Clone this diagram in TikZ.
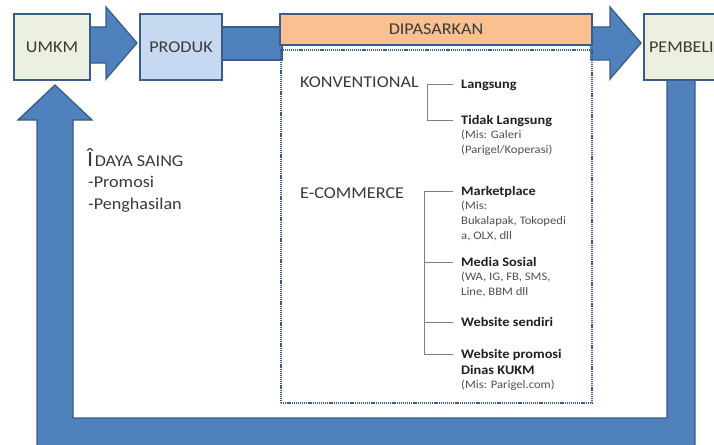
\documentclass[tikz,border=0pt]{standalone}
\usepackage{fontspec}
\setmainfont{Carlito}[FakeStretch=1.1]
\definecolor{arrowblue}{HTML}{4F81BD}
\definecolor{edgeblue}{HTML}{385D8A}
\definecolor{boxgreen}{HTML}{EBF1DE}
\definecolor{boxblue}{HTML}{C6D9F1}
\definecolor{boxorange}{HTML}{FAC090}
\definecolor{txtgray}{HTML}{3A3A3A}
\definecolor{titlegray}{HTML}{202020}
\definecolor{detailgray}{HTML}{505050}
\definecolor{linegray}{HTML}{7F7F7F}
\begin{document}
\begin{tikzpicture}[x=1pt,y=-1pt,
  every node/.style={font=\fontsize{16.5}{19}\selectfont, text=txtgray},
  box/.style={draw=edgeblue, line width=2.2pt, minimum height=66pt, inner sep=0pt},
  blockarrow/.style={fill=arrowblue, draw=edgeblue, line width=1.3pt, line join=miter},
  lbl/.style={inner sep=0pt, anchor=base west},
  ttl/.style={lbl, font=\fontsize{13}{16.5}\selectfont\bfseries, text=titlegray},
  dtl/.style={lbl, font=\fontsize{11.5}{15}\selectfont, text=detailgray},
  brk/.style={draw=linegray, line width=0.9pt}]
\useasboundingbox (0,0) rectangle (714,444);
\clip (0,0) rectangle (714,444);
\fill[white] (0,0) rectangle (714,444);

% feedback arrow
\draw[blockarrow] (667,80) -- (667,418) -- (73,418) -- (73,120) -- (92,120) -- (55,85)
  -- (18,120) -- (37,120) -- (37,452) -- (695,452) -- (695,80) -- cycle;

% top arrows
\draw[blockarrow] (88,27) -- (106,27) -- (106,7) -- (137,43) -- (106,79) -- (106,63) -- (88,63);
\draw[blockarrow] (220,27) rectangle (282,60);
\draw[blockarrow] (590,27) -- (610,27) -- (610,7) -- (641,43) -- (610,79) -- (610,60) -- (590,60);

% boxes
\node[box, fill=boxgreen, minimum width=76pt] (umkm) at (52,47) {UMKM};
\node[box, fill=boxblue, minimum width=82pt] (produk) at (181,47) {PRODUK};
\node[box, fill=boxorange, minimum width=312pt, minimum height=31pt] (dipasarkan) at (436,29.5) {DIPASARKAN};
\node[box, fill=boxgreen, anchor=west, text width=90pt, inner xsep=5pt, align=left] (pembeli) at (643,47) {PEMBELI};
\node[draw=edgeblue, line width=1.5pt, dash pattern=on 1.2pt off 0.9pt, minimum width=311pt, minimum height=353pt, inner sep=0pt] (market) at (436.5,226.5) {};

% left text
\node[lbl] (daya) at (87,166) {{\fontsize{22}{22}\selectfont Î}\hspace{1.5pt}DAYA SAING};
\node[lbl] (promosi) at (88,187) {-Promosi};
\node[lbl] (hasil) at (88,209) {-Penghasilan};

% categories
\node[lbl] (konv) at (300,87) {KONVENTIONAL};
\node[lbl] (ecom) at (300,198) {E-COMMERCE};

% konventional items
\node[ttl] (lang) at (461,88) {Langsung};
\node[ttl] (tidak) at (461,124) {Tidak Langsung};
\node[dtl] (tidakd) at (461,138) {\vtop{\hbox{(Mis: Galeri}\hbox{(Parigel/Koperasi)}}};

% e-commerce items
\node[ttl] (mkt) at (461,195) {Marketplace};
\node[dtl] (mktd) at (461,209.5) {\vtop{\hbox{(Mis:}\hbox{Bukalapak, Tokopedi}\hbox{a, OLX, dll}}};
\node[ttl] (medsos) at (461,266) {Media Sosial};
\node[dtl] (medsosd) at (461,280.5) {\vtop{\hbox{(WA, IG, FB, SMS,}\hbox{Line, BBM dll}}};
\node[ttl] (websendiri) at (461,326) {Website sendiri};
\node[ttl] (webpromo) at (461,358) {\vtop{\hbox{Website promosi}\hbox{Dinas KUKM}}};
\node[dtl] (webpromod) at (461,388) {(Mis: Parigel.com)};

% brackets
\draw[brk] ([xshift=-8pt,yshift=4pt]lang.base west) -- ([xshift=-34pt,yshift=4pt]lang.base west)
  |- ([xshift=-8pt,yshift=4pt]tidak.base west);
\draw[brk] ([xshift=-8pt,yshift=4pt]mkt.base west) -- ([xshift=-37pt,yshift=4pt]mkt.base west)
  |- ([xshift=-8pt,yshift=4pt]webpromo.base west);
\draw[brk] ([xshift=-37pt,yshift=4pt]medsos.base west) -- ([xshift=-8pt,yshift=4pt]medsos.base west);
\draw[brk] ([xshift=-37pt,yshift=4pt]websendiri.base west) -- ([xshift=-8pt,yshift=4pt]websendiri.base west);
\end{tikzpicture}
\end{document}
